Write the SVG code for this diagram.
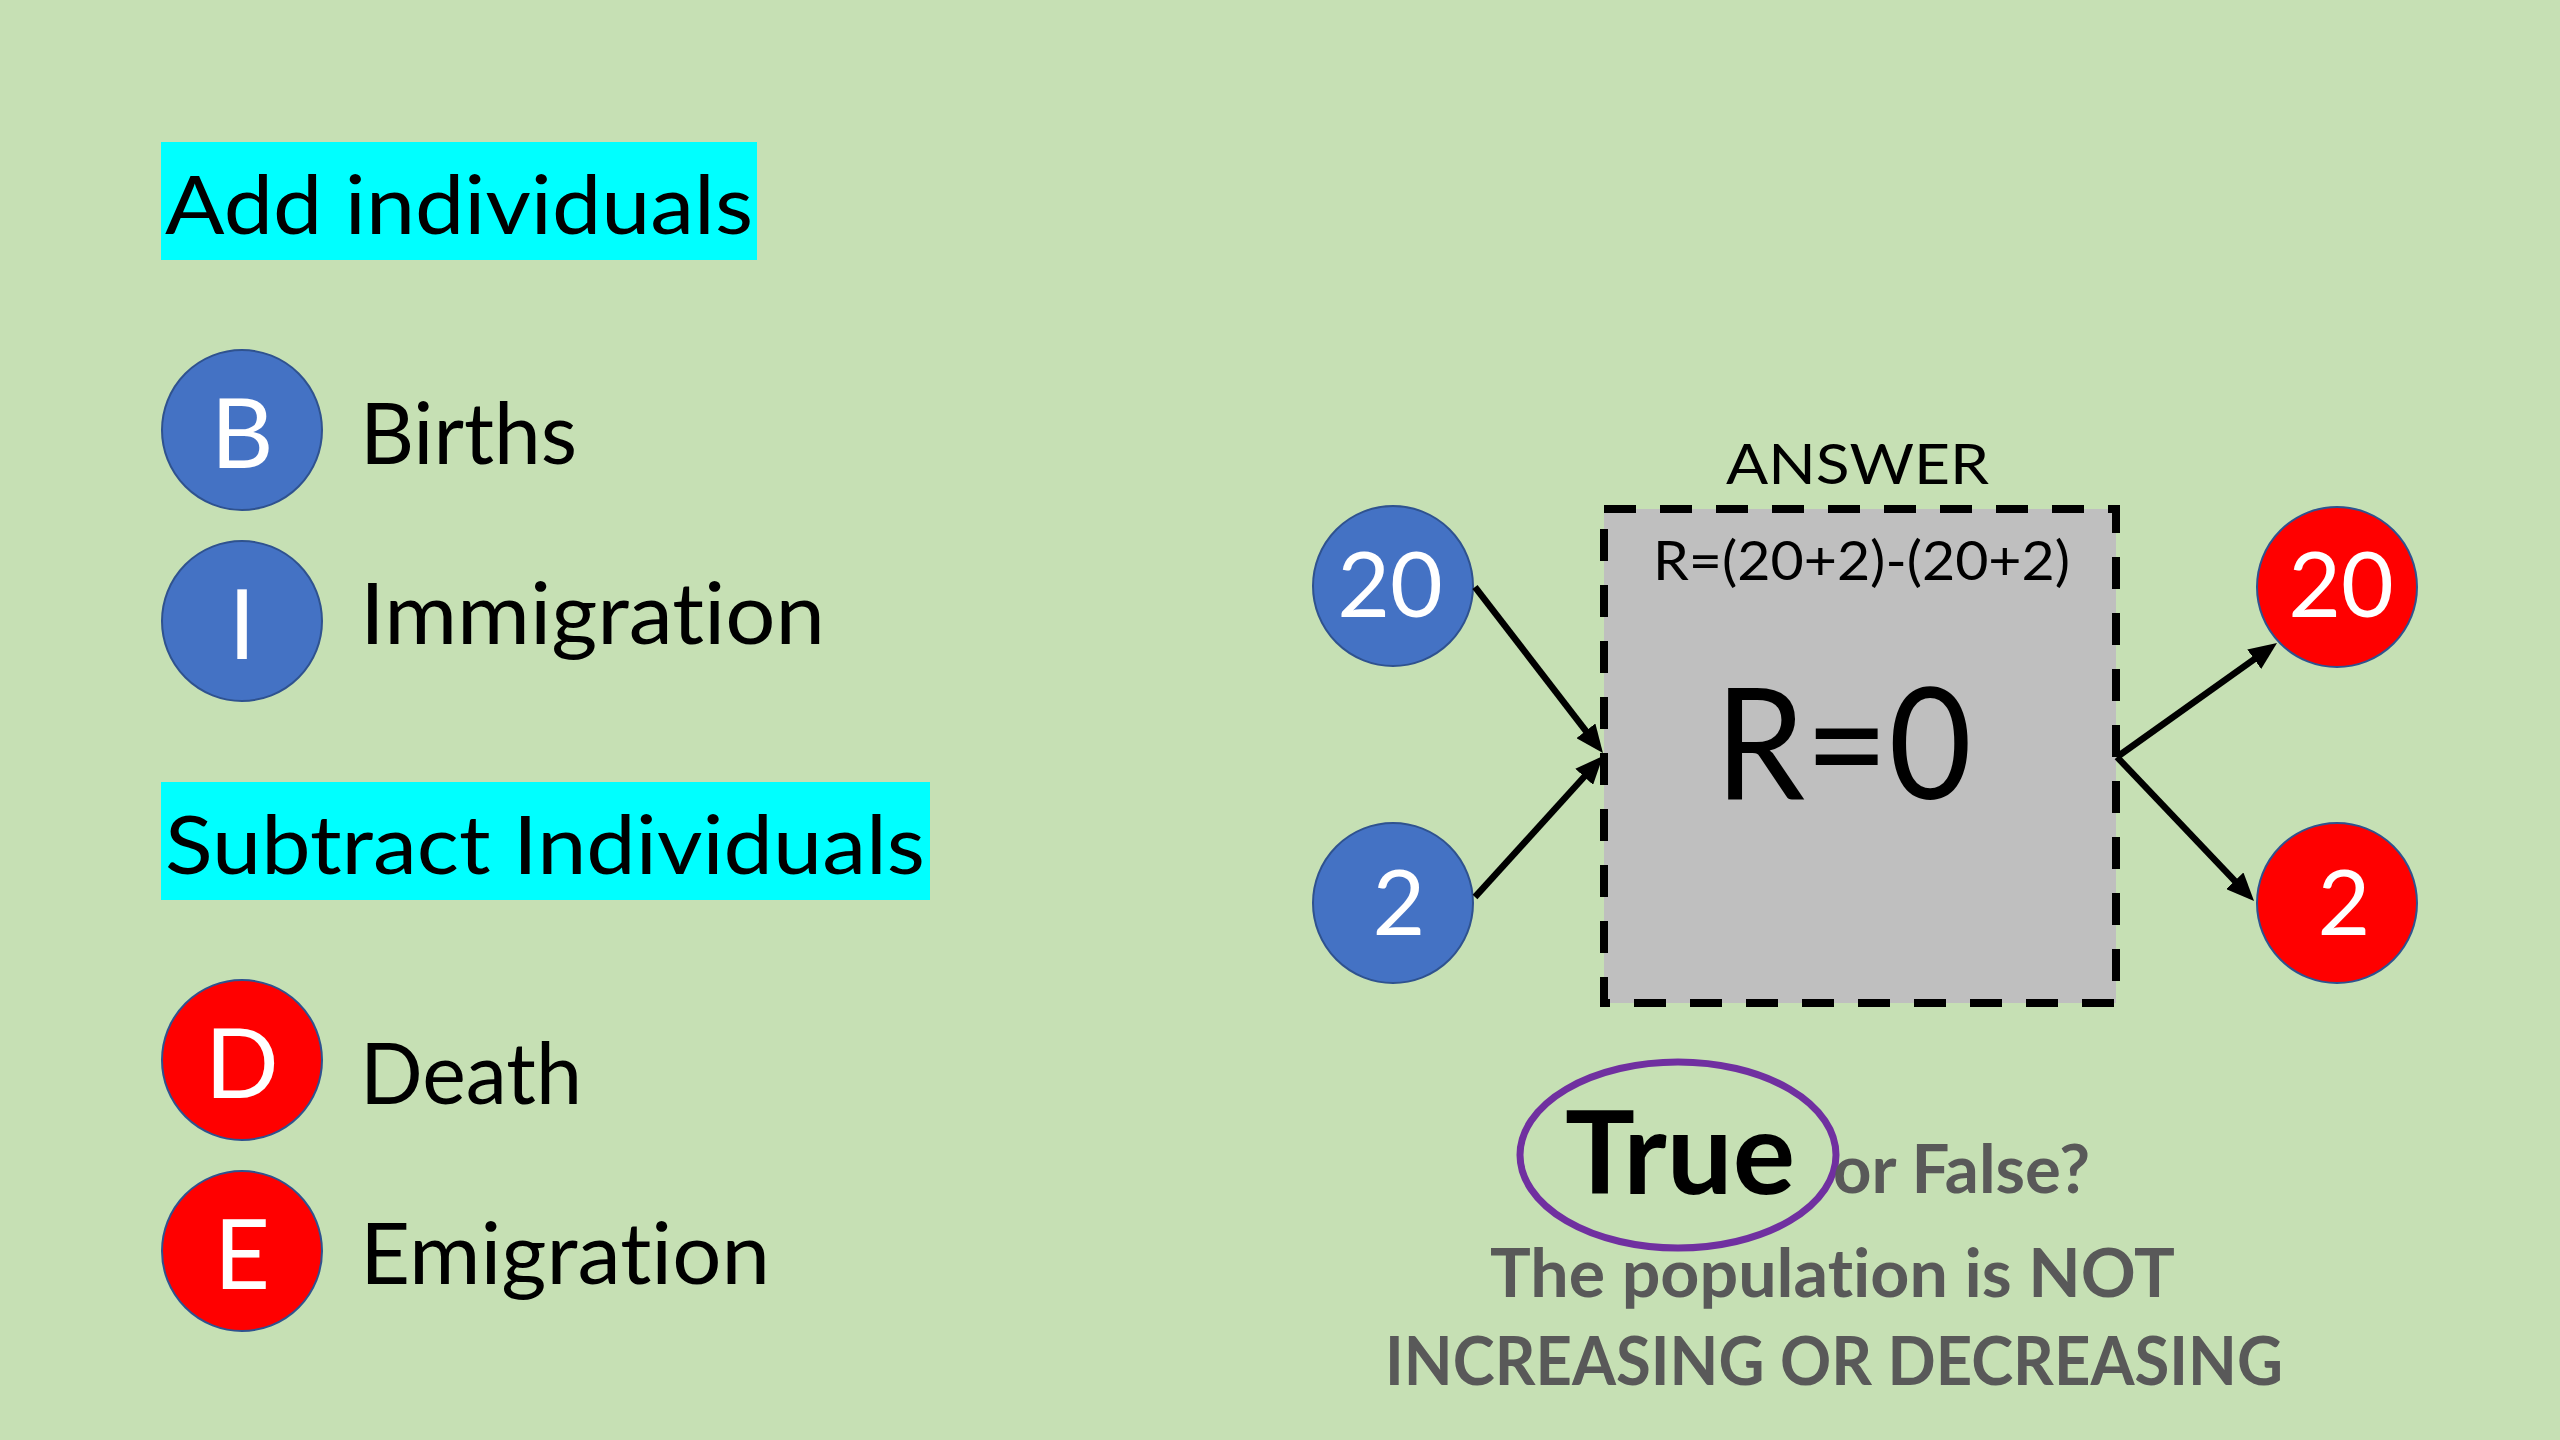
<svg xmlns="http://www.w3.org/2000/svg" width="2560" height="1440" viewBox="0 0 2560 1440">
<defs>
<style>
text{font-variant-ligatures:none;font-feature-settings:"liga" 0,"dlig" 0}
.t{font-family:Lato,"Open Sans","Liberation Sans",sans-serif;fill:#000}
.w{font-family:Lato,"Open Sans","Liberation Sans",sans-serif;fill:#fff;text-anchor:middle}
.g{font-family:Lato,"Open Sans","Liberation Sans",sans-serif;fill:#595959;font-weight:bold}
.blue{fill:#4472C4;stroke:#2F528F;stroke-width:2}
.red{fill:#FF0000;stroke:#2F528F;stroke-width:2}
.hl{fill:#00FFFF}
.arr{stroke:#000;stroke-width:6.5;fill:none;marker-end:url(#ah)}
</style>
<marker id="ah" viewBox="0 0 28 24" refX="14" refY="12" markerWidth="28" markerHeight="24" markerUnits="userSpaceOnUse" orient="auto">
<path d="M0,0 L28,12 L0,24 z" fill="#000"/>
</marker>
</defs>
<rect width="2560" height="1440" fill="#C6E0B4"/>

<g id="add-heading">
<rect class="hl" x="161" y="142" width="596" height="118"/>
<text class="t" x="165" y="234" font-size="82" textLength="588" lengthAdjust="spacingAndGlyphs">Add individuals</text>
</g>
<g id="node-B">
<circle class="blue" cx="242" cy="430" r="80"/>
<text class="w" x="242" y="468" font-size="97">B</text>
<text class="t" x="360" y="464" font-size="85" textLength="217" lengthAdjust="spacingAndGlyphs">Births</text>
</g>
<g id="node-I">
<circle class="blue" cx="242" cy="621" r="80"/>
<text class="w" x="242" y="659" font-size="97">I</text>
<text class="t" x="360" y="644" font-size="85" textLength="465" lengthAdjust="spacingAndGlyphs">Immigration</text>
</g>
<g id="subtract-heading">
<rect class="hl" x="161" y="782" width="769" height="118"/>
<text class="t" x="165" y="874" font-size="82" textLength="760" lengthAdjust="spacingAndGlyphs">Subtract Individuals</text>
</g>
<g id="node-D">
<circle class="red" cx="242" cy="1060" r="80"/>
<text class="w" x="242" y="1098" font-size="97">D</text>
<text class="t" x="360" y="1104" font-size="85" textLength="222" lengthAdjust="spacingAndGlyphs">Death</text>
</g>
<g id="node-E">
<circle class="red" cx="242" cy="1251" r="80"/>
<text class="w" x="242" y="1289" font-size="97">E</text>
<text class="t" x="360" y="1284" font-size="85" textLength="410" lengthAdjust="spacingAndGlyphs">Emigration</text>
</g>

<g id="answer-box">
<text class="t" x="1726" y="484" font-size="57" textLength="263" lengthAdjust="spacingAndGlyphs">ANSWER</text>
<rect x="1604" y="509" width="512" height="494" fill="#BFBFBF" stroke="#000" stroke-width="8" stroke-dasharray="32 24"/>
<text class="t" x="1653" y="580" font-size="55" textLength="417" lengthAdjust="spacingAndGlyphs">R=(20+2)-(20+2)</text>
<text class="t" x="1715" y="799" font-size="155" textLength="257" lengthAdjust="spacingAndGlyphs">R=0</text>
</g>

<g id="in-20">
<circle class="blue" cx="1393" cy="586" r="80"/>
<text class="w" x="1390" y="617" font-size="91">20</text>
</g>
<g id="in-2">
<circle class="blue" cx="1393" cy="903" r="80"/>
<text class="w" x="1399" y="935" font-size="91">2</text>
</g>
<g id="out-20">
<circle class="red" cx="2337" cy="587" r="80"/>
<text class="w" x="2341" y="617" font-size="91">20</text>
</g>
<g id="out-2">
<circle class="red" cx="2337" cy="903" r="80"/>
<text class="w" x="2344" y="935" font-size="91">2</text>
</g>

<g id="connectors">
<line class="arr" x1="1475" y1="587" x2="1594.4" y2="741.9"/>
<line class="arr" x1="1475" y1="897" x2="1593.6" y2="766.4"/>
<line class="arr" x1="2117" y1="757" x2="2265.6" y2="651.1"/>
<line class="arr" x1="2117" y1="757" x2="2244.4" y2="890.9"/>
</g>

<g id="true-false">
<text class="t" x="1565" y="1194" font-size="114" font-weight="bold" textLength="230" lengthAdjust="spacingAndGlyphs">True</text>
<ellipse cx="1678" cy="1155" rx="158" ry="93" fill="none" stroke="#7030A0" stroke-width="7"/>
<text class="g" x="1833" y="1193" font-size="66" textLength="257" lengthAdjust="spacingAndGlyphs">or False?</text>
<text class="g" x="1490" y="1297" font-size="66" textLength="685" lengthAdjust="spacingAndGlyphs">The population is NOT</text>
<text class="g" x="1385" y="1385" font-size="66" textLength="898" lengthAdjust="spacingAndGlyphs">INCREASING OR DECREASING</text>
</g>
</svg>
